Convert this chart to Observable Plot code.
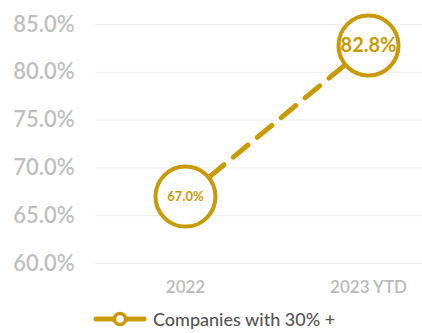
<!DOCTYPE html>
<html><head><meta charset="utf-8">
<script src="https://cdn.jsdelivr.net/npm/d3@7"></script>
<script src="https://cdn.jsdelivr.net/npm/@observablehq/plot@0.6"></script>
<style>
html,body{margin:0;padding:0;background:#fff;}
body{width:422px;height:333px;overflow:hidden;font-family:Lato,"Noto Sans",sans-serif;}
#legend{display:flex;align-items:center;margin-left:93px;margin-top:3px;font-size:18px;color:#555;font-weight:500;}
#legend svg{margin-right:6px;}
</style></head><body>
<div id="chart"></div>
<div id="legend"></div>
<script>
const categories = ["2022", "2023 YTD"];
const values = [67.0, 82.8];
const yTicks = [60, 65, 70, 75, 80, 85];
const seriesName = "Companies with 30% +";
const labelSizes = [13, 20];
const color = "#C99A06";

const data = categories.map((c, i) => ({cat: c, v: values[i], fs: labelSizes[i]}));

const chart = Plot.plot({
  width: 422,
  height: 305,
  marginLeft: 95,
  marginRight: 0,
  marginTop: 0,
  marginBottom: 40,
  style: {fontFamily: "Lato, 'Noto Sans', sans-serif", background: "white"},
  x: {type: "point", domain: categories, range: [185, 368], padding: 0},
  y: {domain: [60, 85], range: [263, 24]},
  marks: [
    Plot.ruleY(yTicks, {stroke: "#eeeeee", strokeWidth: 1}),
    Plot.axisY(yTicks, {tickSize: 0, tickPadding: 21, tickFormat: d => d.toFixed(1) + "%", fontSize: 22, fill: "#bfbfbf", fontWeight: 600, label: null}),
    Plot.axisX(categories, {tickSize: 0, tickPadding: 15, fontSize: 17, fill: "#bbbbbb", fontWeight: 600, label: null, anchor: "bottom"}),
    Plot.line(data, {x: "cat", y: "v", stroke: color, strokeWidth: 5, strokeDasharray: "19 12", strokeLinecap: "round"}),
    Plot.dot(data, {x: "cat", y: "v", r: 30, fill: "white", stroke: color, strokeWidth: 4}),
    Plot.text(data, {x: "cat", y: "v", text: d => d.v.toFixed(1) + "%", fill: color, fontSize: "fs", fontWeight: 700})
  ]
});
document.getElementById("chart").appendChild(chart);

const leg = document.getElementById("legend");
leg.innerHTML = `<svg width="54" height="16"><line x1="3" y1="8" x2="51" y2="8" stroke="${color}" stroke-width="5" stroke-linecap="round"/><circle cx="27" cy="8" r="5.5" fill="white" stroke="${color}" stroke-width="3.5"/></svg><span>${seriesName}</span>`;
</script>
</body></html>
